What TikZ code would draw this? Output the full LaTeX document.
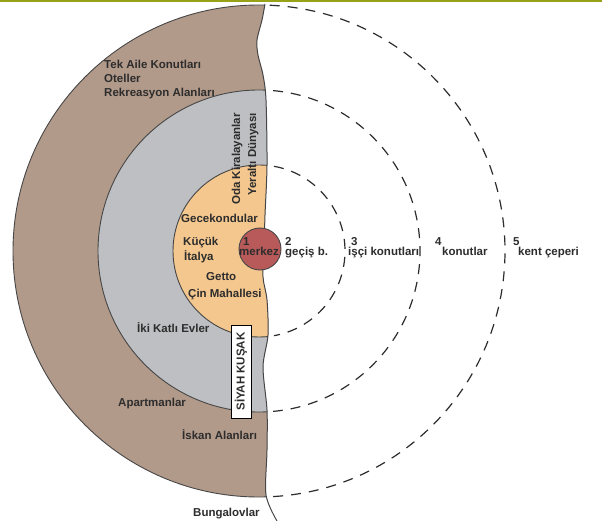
\documentclass[tikz,border=0pt]{standalone}
\usepackage{fontspec}
\setmainfont{Liberation Sans}
\definecolor{brownring}{RGB}{178,154,138}
\definecolor{grayring}{RGB}{190,191,195}
\definecolor{orangering}{RGB}{244,199,142}
\definecolor{redcore}{RGB}{184,90,90}
\definecolor{topgreen}{RGB}{152,162,22}
\definecolor{txt}{RGB}{45,45,45}
\definecolor{edge}{RGB}{70,70,70}
\tikzset{
  lbl/.style={font=\fontsize{11.5}{13}\selectfont\bfseries, text=txt, inner sep=0pt, anchor=base west},
  vlbl/.style={font=\fontsize{11.5}{13}\selectfont\bfseries, text=txt, inner sep=0pt, rotate=90, anchor=base east},
  ringedge/.style={draw=edge, line width=0.9pt},
  ringdash/.style={draw=txt, line width=1.2pt, dash pattern=on 10pt off 8pt},
  wavyline/.style={draw=edge, line width=1pt},
}
\begin{document}
\begin{tikzpicture}[x=1pt,y=-1pt]
\useasboundingbox (0,0) rectangle (602,521);
\fill[white] (0,0) rectangle (602,521);
% top green rule
\fill[topgreen] (0,0) rectangle (602,2.2);
% coloured half rings, clipped left of the wavy cut
\begin{scope}
  \clip (-5,-5) -- (265,-5) -- plot[smooth] coordinates {(265,4) (262,20) (257,40) (258,55) (263,75) (266,100) (267,165) (265,215) (264,250) (263,277) (267,300) (268,335) (263,367) (267,410) (267,450) (266,495) (277,521)} -- (277,530) -- (-5,530) -- cycle;
  \path[ringedge, fill=brownring] (259,251) circle[radius=246];
  \path[ringedge, fill=grayring] (259,251) circle[radius=161];
  \path[ringedge, fill=orangering] (259,251) circle[radius=86];
\end{scope}
\draw[wavyline] plot[smooth] coordinates {(265,4) (262,20) (257,40) (258,55) (263,75) (266,100) (267,165) (265,215) (264,250) (263,277) (267,300) (268,335) (263,367) (267,410) (267,450) (266,495) (277,521)};
% centre
\path[ringedge, fill=redcore] (260,249) circle[radius=21];
% dashed right halves
\draw[ringdash] (259,251) ++(-80:86) arc[start angle=-80, end angle=80, radius=86];
\draw[ringdash] (259,251) ++(-85:161) arc[start angle=-85, end angle=85, radius=161];
\draw[ringdash] (259,251) ++(-87.5:246) arc[start angle=-87.5, end angle=87.5, radius=246];
% labels
\node[lbl] (tek) at (104,69) {Tek Aile Konutları};
\node[lbl] (otel) at (104,83) {Oteller};
\node[lbl] (rek) at (104,97) {Rekreasyon Alanları};
\node[vlbl] (oda) at (240,113) {Oda Kiralayanlar};
\node[vlbl] (yer) at (256,113) {Yeraltı Dünyası};
\node[lbl] (gece) at (181,223) {Gecekondular};
\node[lbl] (kucuk) at (183,245.5) {Küçük};
\node[lbl] (ital) at (184,261) {İtalya};
\node[lbl] (getto) at (206,280) {Getto};
\node[lbl] (cin) at (188,298) {Çin Mahallesi};
\node[lbl] (n1) at (243,246) {1};
\node[lbl] (merkez) at (239,256) {merkez};
\node[lbl] (n2) at (285,246) {2};
\node[lbl] (gecis) at (285,256) {geçiş b.};
\node[lbl] (n3) at (351,246) {3};
\node[lbl] (isci) at (348,256) {işçi konutları};
\node[lbl] (n4) at (435,246) {4};
\node[lbl] (konut) at (442,256) {konutlar};
\node[lbl] (n5) at (513,246) {5};
\node[lbl] (kent) at (518,256) {kent çeperi};
\node[lbl] (iki) at (137,332) {İki Katlı Evler};
\node[lbl] (apt) at (118,406) {Apartmanlar};
\node[lbl] (iskan) at (182,439) {İskan Alanları};
\node[lbl] (bung) at (193,516) {Bungalovlar};
\node[font=\fontsize{11.5}{13}\selectfont\bfseries, text=txt, rotate=90, draw=black, line width=0.9pt, fill=white, inner sep=0pt, minimum width=93pt, minimum height=20pt] (siyah) at (241,371.5) {SİYAH KUŞAK};
\end{tikzpicture}
\end{document}
